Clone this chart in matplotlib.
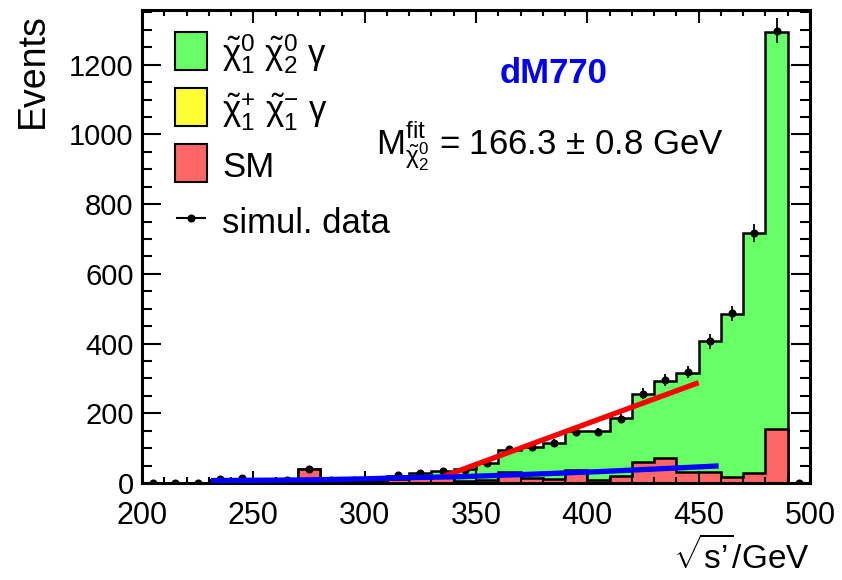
import numpy as np
import matplotlib
matplotlib.use("Agg")
import matplotlib.pyplot as plt
import matplotlib.ticker as ticker
from matplotlib.patches import Rectangle
from matplotlib.lines import Line2D

plt.rcParams['font.family'] = ['Liberation Sans', 'DejaVu Sans']
plt.rcParams['mathtext.fontset'] = 'custom'
plt.rcParams['mathtext.rm'] = 'Liberation Sans'
plt.rcParams['mathtext.it'] = 'Liberation Sans'
plt.rcParams['mathtext.bf'] = 'Liberation Sans:bold'

# bins of 10 GeV from 200 to 500
bin_edges = np.arange(200, 501, 10)

# stacked contributions
sm = [0, 0, 0, 8, 8, 4, 5, 40, 8, 5,
      5, 12, 20, 18, 7, 8, 32, 13, 12, 36,
      9, 21, 60, 71, 31, 31, 18, 28, 155, 0]
chargino = [0] * 30
neutralino_total = [0, 0, 0, 10, 12, 6, 6, 40, 10, 8,
                    8, 20, 30, 33, 39, 58, 95, 104, 114, 148,
                    148, 186, 255, 293, 315, 406, 485, 717, 1295, 0]

# simulated data points
data = [0, 0, 0, 12, 15, 0, 8, 40, 10, 10,
        0, 22, 30, 34, 36, 56, 97, 104, 115, 147,
        147, 185, 256, 295, 318, 406, 487, 717, 1298, 0]

# fit curves
fit_red_x = [335, 450]
fit_red_y = [18, 288]
fit_blue_x = [231, 255, 275, 300, 316, 343, 370, 403, 430, 459]
fit_blue_y = [7, 8, 9, 12, 15, 18, 24, 32, 40, 49]

sm = np.array(sm, dtype=float)
chargino = np.array(chargino, dtype=float)
total = np.array(neutralino_total, dtype=float)
data = np.array(data, dtype=float)
centers = 0.5 * (bin_edges[:-1] + bin_edges[1:])

fig = plt.figure(figsize=(8.42, 5.80), dpi=100)
ax = fig.add_axes([142 / 842, 1 - 483 / 580, 668 / 842, 473 / 580])

green = '#66ff66'
yellow = '#ffff33'
red = '#ff6666'

ax.stairs(total, bin_edges, fill=True, facecolor=green, edgecolor='none', zorder=1)
ax.stairs(total, bin_edges, color='black', lw=1.8, zorder=1.1)
ax.stairs(sm + chargino, bin_edges, fill=True, facecolor=yellow, edgecolor='none', zorder=1.2)
ax.stairs(sm, bin_edges, fill=True, facecolor=red, edgecolor='none', zorder=1.3)
ax.stairs(sm, bin_edges, color='black', lw=1.8, zorder=1.4)

ax.errorbar(centers, data, yerr=np.sqrt(data), fmt='o', color='black',
            ms=4.8, elinewidth=1.3, capsize=0, zorder=3)

ax.plot(fit_red_x, fit_red_y, color='#ff0000', lw=3.8, zorder=4, solid_capstyle='butt')
ax.plot(fit_blue_x, fit_blue_y, color='#0000ff', lw=3.8, zorder=4, solid_capstyle='butt')

ax.set_xlim(200, 500)
ax.set_ylim(0, 1357)

ax.xaxis.set_major_locator(ticker.MultipleLocator(50))
ax.xaxis.set_minor_locator(ticker.MultipleLocator(10))
ax.yaxis.set_major_locator(ticker.MultipleLocator(200))
ax.yaxis.set_minor_locator(ticker.MultipleLocator(50))
ax.tick_params(axis='both', which='both', direction='in', top=True, right=True, width=1.5)
ax.tick_params(axis='x', which='major', length=9, labelsize=22, pad=13)
ax.tick_params(axis='x', which='minor', length=4.5)
ax.tick_params(axis='y', which='major', length=14, labelsize=21, pad=6)
ax.tick_params(axis='y', which='minor', length=7)
for s in ax.spines.values():
    s.set_linewidth(2.2)

fig.text(33 / 842, 1 - 13 / 580, 'Events', rotation=90, ha='center', va='top', fontsize=27)
fig.text(810 / 842, 1 - 556 / 580, r"$\sqrt{\mathrm{s’}}\mathrm{/GeV}$", ha='right', va='center', fontsize=24)

# legend drawn by hand, ROOT style
labels = [r'$\tilde{\chi}^{0}_{1}\ \tilde{\chi}^{0}_{2}\ \gamma$',
          r'$\tilde{\chi}^{+}_{1}\ \tilde{\chi}^{-}_{1}\ \gamma$',
          'SM']
colors = [green, yellow, red]
box_y = [0.873, 0.755, 0.637]
text_y = [0.885, 0.765, 0.646]
for lab, c, by, ty in zip(labels, colors, box_y, text_y):
    ax.add_patch(Rectangle((0.0494, by), 0.0479, 0.080, transform=ax.transAxes,
                           facecolor=c, edgecolor='black', lw=1.5, zorder=5))
    ax.text(0.1198, ty, lab, transform=ax.transAxes, fontsize=25, va='baseline', zorder=5)
ax.add_line(Line2D([0.052, 0.094], [0.56, 0.56], transform=ax.transAxes, color='black', lw=1.5, zorder=5))
ax.plot([0.073], [0.56], 'o', color='black', ms=4.8, transform=ax.transAxes, zorder=5)
ax.text(0.1198, 0.528, 'simul. data', transform=ax.transAxes, fontsize=25, va='baseline', zorder=5)

ax.text(0.536, 0.846, 'dM770', transform=ax.transAxes, fontsize=25, fontweight='bold',
        color='#0000ff', va='baseline')
ax.text(0.350, 0.693, r'$\mathrm{M}^{\mathrm{fit}}_{\tilde{\chi}^{0}_{2}}$ = 166.3 ± 0.8 GeV',
        transform=ax.transAxes, fontsize=25, va='baseline')

fig.savefig('out.png', dpi=100)
